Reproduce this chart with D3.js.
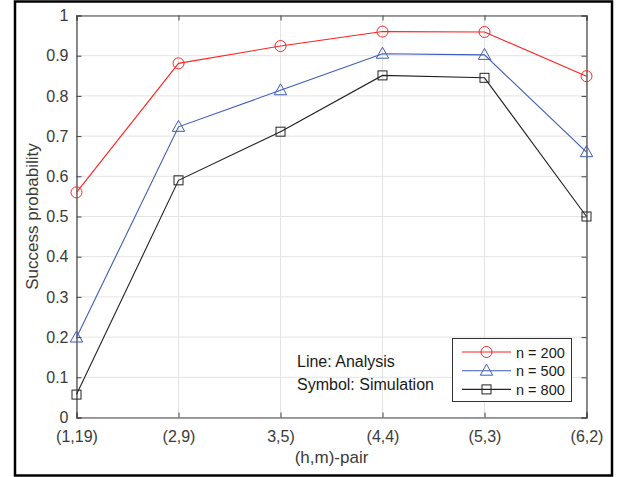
<!DOCTYPE html>
<html>
<head>
<meta charset="utf-8">
<script src="https://cdn.jsdelivr.net/npm/d3@7"></script>
<style>
  body { margin: 0; background: #fff; }
  svg { display: block; font-family: "Liberation Sans", Arial, sans-serif; }
</style>
</head>
<body>
<svg id="chart" width="623" height="477"></svg>
<script>
const categories = ['(1,19)', '(2,9)', '3,5)', '(4,4)', '(5,3)', '(6,2)'];
const n200 = [0.560, 0.881, 0.924, 0.960, 0.959, 0.849];
const n500 = [0.199, 0.723, 0.814, 0.905, 0.902, 0.660];
const n800 = [0.057, 0.590, 0.711, 0.851, 0.845, 0.500];
const yTicks = [0, 0.1, 0.2, 0.3, 0.4, 0.5, 0.6, 0.7, 0.8, 0.9, 1];
const seriesNames = ['n = 200', 'n = 500', 'n = 800'];

const series = [
    {name: seriesNames[0], values: n200, color: '#ff2222', marker: 'circle'},
    {name: seriesNames[1], values: n500, color: '#3e5bb5', marker: 'triangle'},
    {name: seriesNames[2], values: n800, color: '#222222', marker: 'square'}
];

const svg = d3.select('#chart');
const plotLeft = 76.5, plotRight = 586.5, plotTop = 15.5, plotBottom = 417.5;

const xScale = d3.scalePoint().domain(categories).range([plotLeft, plotRight]);
const yScale = d3.scaleLinear().domain([0, 1]).range([plotBottom, plotTop]);

// outer frame
svg.append('rect')
    .attr('x', 15).attr('y', 1.5)
    .attr('width', 597).attr('height', 474)
    .attr('fill', 'none').attr('stroke', '#000').attr('stroke-width', 2.5);

// grid
const grid = svg.append('g');
grid.selectAll('.gy').data(yTicks).enter().append('line')
    .attr('x1', plotLeft).attr('x2', plotRight)
    .attr('y1', d => yScale(d)).attr('y2', d => yScale(d))
    .attr('stroke', '#e3e3e3').attr('stroke-width', 1);
grid.selectAll('.gx').data(categories).enter().append('line')
    .attr('x1', d => xScale(d)).attr('x2', d => xScale(d))
    .attr('y1', plotTop).attr('y2', plotBottom)
    .attr('stroke', '#e3e3e3').attr('stroke-width', 1);

// axes (ticks inside, mirrored on top/right)
const axisColor = '#444';
const tickLen = 5;
const yAxis = d3.axisLeft(yScale).tickValues(yTicks).tickSize(-tickLen).tickPadding(8)
    .tickFormat(d => d3.format('')(+d.toFixed(1)));
const xAxis = d3.axisBottom(xScale).tickSize(-tickLen).tickPadding(13);

const gy = svg.append('g').attr('transform', `translate(${plotLeft},0)`).call(yAxis);
const gx = svg.append('g').attr('transform', `translate(0,${plotBottom})`).call(xAxis);
const gyr = svg.append('g').attr('transform', `translate(${plotRight},0)`)
    .call(d3.axisRight(yScale).tickValues(yTicks).tickSize(-tickLen).tickFormat(''));
const gxt = svg.append('g').attr('transform', `translate(0,${plotTop})`)
    .call(d3.axisTop(xScale).tickSize(-tickLen).tickFormat(''));

[gy, gx, gyr, gxt].forEach(g => {
    g.selectAll('path').attr('stroke', axisColor).attr('stroke-width', 1.2);
    g.selectAll('line').attr('stroke', axisColor);
    g.selectAll('text').attr('fill', '#3a3a3a').style('font-size', '16px')
        .style('font-family', '"Liberation Sans", Arial, sans-serif');
});

// axis labels
svg.append('text')
    .attr('x', (plotLeft + plotRight) / 2).attr('y', 463)
    .attr('text-anchor', 'middle').attr('fill', '#3a3a3a')
    .style('font-size', '17px')
    .text('(h,m)-pair');
svg.append('text')
    .attr('transform', `translate(38,${(plotTop + plotBottom) / 2}) rotate(-90)`)
    .attr('text-anchor', 'middle').attr('fill', '#3a3a3a')
    .style('font-size', '17px')
    .text('Success probability');

// markers
const drawMarker = (g, type, color) => {
    if (type === 'circle') {
        g.append('circle').attr('r', 5.5)
            .attr('fill', 'none').attr('stroke', color).attr('stroke-width', 1);
    } else if (type === 'triangle') {
        g.append('path').attr('d', 'M0,-6.5L6.2,4.5L-6.2,4.5Z')
            .attr('fill', 'none').attr('stroke', color).attr('stroke-width', 1);
    } else {
        g.append('rect').attr('x', -4.5).attr('y', -4.5).attr('width', 9).attr('height', 9)
            .attr('fill', 'none').attr('stroke', color).attr('stroke-width', 1);
    }
};

const line = d3.line()
    .x((d, i) => xScale(categories[i]))
    .y(d => yScale(d));

series.forEach(s => {
    svg.append('path')
        .datum(s.values)
        .attr('d', line)
        .attr('fill', 'none')
        .attr('stroke', s.color)
        .attr('stroke-width', 1.1);
    s.values.forEach((v, i) => {
        const g = svg.append('g')
            .attr('transform', `translate(${xScale(categories[i])},${yScale(v)})`);
        drawMarker(g, s.marker, s.color);
    });
});

// annotation
svg.append('text').attr('x', 297).attr('y', 367)
    .attr('fill', '#1a1a1a').style('font-size', '16px').text('Line: Analysis');
svg.append('text').attr('x', 297).attr('y', 390)
    .attr('fill', '#1a1a1a').style('font-size', '16px').text('Symbol: Simulation');

// legend
const legend = svg.append('g');
legend.append('rect')
    .attr('x', 452.5).attr('y', 338.5).attr('width', 119).attr('height', 63)
    .attr('fill', '#fff').attr('stroke', '#333').attr('stroke-width', 1);
series.forEach((s, i) => {
    const y = 352 + i * 18.7;
    legend.append('line')
        .attr('x1', 462).attr('x2', 511).attr('y1', y).attr('y2', y)
        .attr('stroke', s.color).attr('stroke-width', 1.1);
    const g = legend.append('g').attr('transform', `translate(486.5,${y})`);
    drawMarker(g, s.marker, s.color);
    legend.append('text')
        .attr('x', 516).attr('y', y + 5.5)
        .attr('fill', '#1a1a1a').style('font-size', '14.5px')
        .text(s.name);
});
</script>
</body>
</html>
